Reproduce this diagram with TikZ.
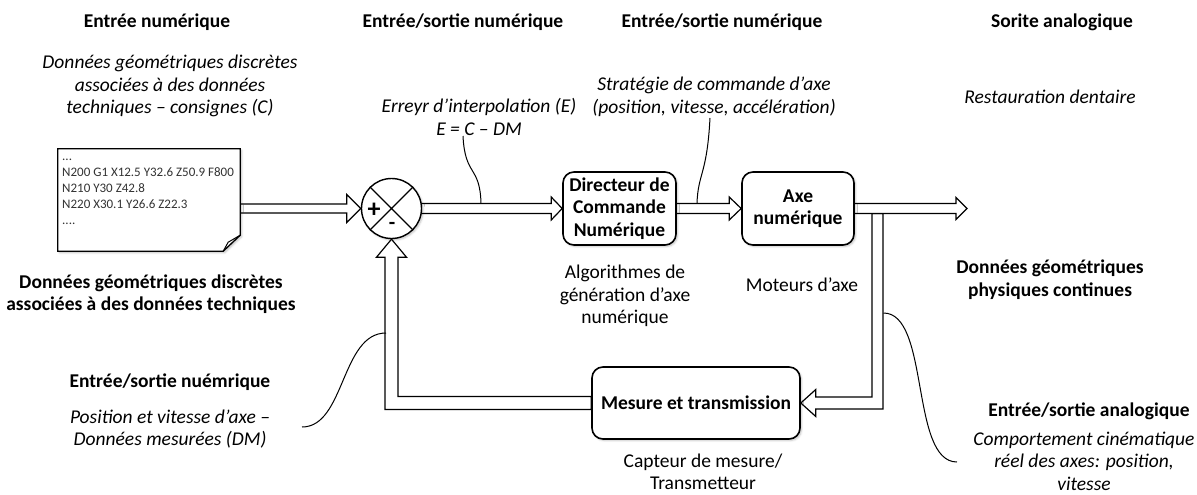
\documentclass[tikz,border=0pt]{standalone}
\usepackage{fontspec}
\setmainfont{Carlito}
\usetikzlibrary{calc,shadows.blur,backgrounds}
\newcommand{\harr}[5]{% start, tip, shaft half, head half, head length (rightward)
  \draw[blk] ($(#1)+(0,-#3)$) -- ($(#2)+(-#5,-#3)$) -- ($(#2)+(-#5,-#4)$) -- (#2)
    -- ($(#2)+(-#5,#4)$) -- ($(#2)+(-#5,#3)$) -- ($(#1)+(0,#3)$);}
\begin{document}
\begin{tikzpicture}[x=1pt,y=-1pt,
  txt/.style={align=center,font=\fontsize{19.5}{22.5}\selectfont,inner sep=0pt},
  hd/.style={align=center,inner sep=0pt,font=\fontsize{19.5}{22.5}\selectfont\bfseries},
  it/.style={align=center,inner sep=0pt,font=\fontsize{19.5}{22.5}\selectfont\itshape},
  blk/.style={draw,line width=1.2pt,fill=white,line join=miter},
  shad/.style={blur shadow={shadow xshift=1.5pt,shadow yshift=-1.5pt,shadow blur steps=4,shadow opacity=25}},
  box/.style={draw,line width=1.6pt,rounded corners=11pt,fill=white,align=center,inner sep=0pt,
    font=\fontsize{19.5}{22.5}\selectfont\bfseries,shad},
  call/.style={line width=1pt}]
\useasboundingbox (0,0) rectangle (1197,495);

% ---- texts ----
\node[hd] (h1) at (157,22) {Entrée numérique};
\node[it] (t1) at (170,86) {Données géométriques discrètes\\associées à des données\\techniques – consignes (C)};
\node[hd] (b1) at (151,294) {Données géométriques discrètes\\associées à des données techniques};

\node[hd] (h2) at (463,22) {Entrée/sortie numérique};
\node[it] (t2) at (479,117) {Erreyr d’interpolation (E)\\E = C – DM};

\node[hd] (h3) at (722,22) {Entrée/sortie numérique};
\node[it] (t4) at (714,97) {Stratégie de commande d’axe\\(position, vitesse, accélération)};

\node[hd] (h4) at (1062,22) {Sorite analogique};
\node[it] (t6) at (1050,97) {Restauration dentaire};

\node[txt] (t3) at (625,296) {Algorithmes de\\génération d’axe\\numérique};
\node[txt] (t5) at (802,285) {Moteurs d’axe};
\node[hd] (b2) at (1050,279.5) {Données géométriques\\physiques continues};

\node[hd] (h5) at (170,382) {Entrée/sortie nuémrique};
\node[it] (t7) at (170,429) {Position et vitesse d’axe –\\Données mesurées (DM)};

\node[txt] (t8) at (703,472) {Capteur de mesure/\\Transmetteur};

\node[hd] (h6) at (1089,411) {Entrée/sortie analogique};
\node[it] (t9) at (1084,461) {Comportement cinématique\\réel des axes: position,\\vitesse};

% ---- document ----
\node[minimum width=182pt,minimum height=102pt,inner sep=0pt] (doc) at (149,200) {};
\draw[line width=1.3pt,fill=white,shad,line join=miter] (doc.north west) -- (doc.north east)
  -- ($(doc.south east)+(0,-16)$) -- ($(doc.south east)+(-17,0)$) -- (doc.south west) -- cycle;
\draw[line width=1pt] ($(doc.south east)+(-17,0)$) .. controls ($(doc.south east)+(-14,-5)$) .. ($(doc.south east)+(-12,-9)$)
  -- ($(doc.south east)+(0,-16)$);
\node[anchor=west,align=left,font=\fontsize{13}{16}\selectfont,text=black!80,inner sep=0pt] (code) at (62,192)
  {...\\N200 G1 X12.5 Y32.6 Z50.9 F800\\N210 Y30 Z42.8\\N220 X30.1 Y26.6 Z22.3\\....};

% ---- blocks ----
\node[circle,draw,line width=1.4pt,fill=white,minimum size=60pt,inner sep=0pt,shad] (sum) at (391.5,208.5) {};
\draw[line width=1.2pt] (sum.45) -- (sum.225) (sum.135) -- (sum.315);
\node[font=\fontsize{26}{26}\selectfont\bfseries,inner sep=0pt] (plus) at (374,210) {+};
\node[font=\fontsize{21}{21}\selectfont\bfseries,inner sep=0pt] (minus) at (392,226) {-};

\node[box,minimum width=113pt,minimum height=73pt] (dir) at (619.5,208.5) {Directeur de\\Commande\\Numérique};
\node[box,minimum width=112pt,minimum height=73pt] (axe) at (798,208.5) {Axe\\numérique};
\node[box,minimum width=208pt,minimum height=72pt] (mes) at (696,403) {Mesure et transmission};
\coordinate (out) at (967,208.5);
\coordinate (rfb) at (877.5,213.5);

% ---- connectors ----
\begin{scope}[on background layer]
\coordinate (a1s) at (doc.east |- sum.west);
\harr{a1s}{sum.west}{4.5}{14}{14}
\harr{sum.center}{dir.west}{5}{11.5}{11}
\harr{dir.east}{axe.west}{5}{11.5}{12}
% right feedback
\draw[blk] ($(rfb)+(-5.5,0)$) |- ($(mes.east)+(15,-6)$) -- ($(mes.east)+(15,-13.5)$) -- (mes.east)
  -- ($(mes.east)+(15,13.5)$) -- ($(mes.east)+(15,6)$) -| ($(rfb)+(5.5,0)$) -- cycle;
\harr{axe.east}{out}{5}{11}{11}
% left feedback
\draw[blk] (sum.south) -- ($(sum.south)+(15,18)$) -- ($(sum.south)+(6.5,18)$) |- ($(mes.west)+(0,-6.5)$)
  -- ($(mes.west)+(0,6.5)$) -| ($(sum.south)+(-6.5,18)$) -- ($(sum.south)+(-15,18)$) -- cycle;
\end{scope}

% ---- callouts ----
\coordinate (c2a) at (463,136);
\coordinate (c2) at (481,203.5);
\draw[call] (c2a) .. controls (465,177) and (480,165) .. (c2);
\coordinate (c4a) at (710,118);
\coordinate (c4) at (697,203.5);
\draw[call] (c4a) .. controls (707,175) and (698,173) .. (c4);
\coordinate (c7a) at (302,427);
\coordinate (c7) at (386,333);
\draw[call] (c7a) .. controls (345,427) and (341,333) .. (c7);
\coordinate (c9) at (883.5,313);
\coordinate (c9a) at (957,462);
\draw[call] (c9) .. controls (930,313) and (910,462) .. (c9a);
\end{tikzpicture}
\end{document}
